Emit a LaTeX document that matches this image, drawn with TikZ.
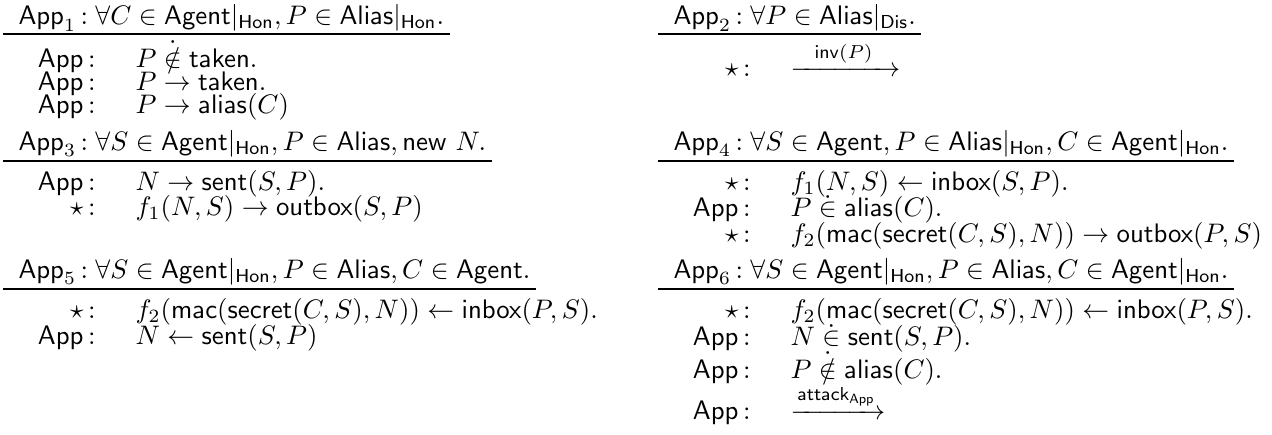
\documentclass[tikz,border=0pt]{standalone}
\usepackage{amsmath,amssymb}
\usetikzlibrary{calc}
\newcommand{\sfx}[1]{\mathsf{#1}}
\newcommand{\Hon}{|_{\sfx{Hon}}}
\newcommand{\rolA}{$\sfx{App}\,{:}$}
\newcommand{\rolS}{$\star\,{:}$}
\newcommand{\dnotin}{\mathrel{\dot{\notin}}}
\newcommand{\din}{\mathrel{\dot{\in}}}
\tikzset{
  ttl/.style={anchor=base west, inner sep=0pt},
  role/.style={anchor=base east, inner sep=0pt},
  body/.style={anchor=base west, inner sep=0pt},
  rl/.style={line width=0.75pt}
}
\begin{document}
\begin{tikzpicture}[x=0.3731pt,y=-0.3731pt]
\useasboundingbox (0,0) rectangle (1272,434);
% ---------- left column ----------
\node[ttl] (t1) at (18,24.5) {$\sfx{App}_1\,{:}\;\forall C\in\sfx{Agent}\Hon, P\in\sfx{Alias}\Hon.$};
\draw[rl] ($(t1.base west)+(-15,9)$) -- ($(t1.base east)+(5,9)$);
\node[role] (a11) at (96,67) {\rolA};
\node[body] (b11) at (135,67) {$P \dnotin \sfx{taken}.$};
\node[role] (a12) at (96,90) {\rolA};
\node[body] (b12) at (135,90) {$P \to \sfx{taken}.$};
\node[role] (a13) at (96,113) {\rolA};
\node[body] (b13) at (135,113) {$P \to \sfx{alias}(C)$};

\node[ttl] (t3) at (18,150) {$\sfx{App}_3\,{:}\;\forall S\in\sfx{Agent}\Hon, P\in\sfx{Alias}, \sfx{new}\ N.$};
\draw[rl] ($(t3.base west)+(-15,11)$) -- ($(t3.base east)+(5,11)$);
\node[role] (a31) at (96,190) {\rolA};
\node[body] (b31) at (135,190) {$N \to \sfx{sent}(S,P).$};
\node[role] (a32) at (96,215) {\rolS};
\node[body] (b32) at (135,215) {$f_1(N,S) \to \sfx{outbox}(S,P)$};

\node[ttl] (t5) at (18,278) {$\sfx{App}_5\,{:}\;\forall S\in\sfx{Agent}\Hon, P\in\sfx{Alias}, C\in\sfx{Agent}.$};
\draw[rl] ($(t5.base west)+(-15,10.5)$) -- ($(t5.base east)+(5,10.5)$);
\node[role] (a51) at (96,318) {\rolS};
\node[body] (b51) at (135,318) {$f_2(\sfx{mac}(\sfx{secret}(C,S),N)) \leftarrow \sfx{inbox}(P,S).$};
\node[role] (a52) at (96,344) {\rolA};
\node[body] (b52) at (135,344) {$N \leftarrow \sfx{sent}(S,P)$};

% ---------- right column ----------
\node[ttl] (t2) at (673,24.5) {$\sfx{App}_2\,{:}\;\forall P\in\sfx{Alias}|_{\sfx{Dis}}.$};
\draw[rl] ($(t2.base west)+(-15,9)$) -- ($(t2.base east)+(5,9)$);
\node[role] (a21) at (751,76) {\rolS};
\node[body] (b21) at (790,76) {$\xrightarrow{\hspace{6.5pt}\sfx{inv}(P)\hspace{6.5pt}}$};

\node[ttl] (t4) at (673,150) {$\sfx{App}_4\,{:}\;\forall S\in\sfx{Agent}, P\in\sfx{Alias}\Hon, C\in\sfx{Agent}\Hon.$};
\draw[rl] ($(t4.base west)+(-15,11)$) -- ($(t4.base east)+(5,11)$);
\node[role] (a41) at (751,190) {\rolS};
\node[body] (b41) at (790,190) {$f_1(N,S) \leftarrow \sfx{inbox}(S,P).$};
\node[role] (a42) at (751,216) {\rolA};
\node[body] (b42) at (790,216) {$P \din \sfx{alias}(C).$};
\node[role] (a43) at (751,242) {\rolS};
\node[body] (b43) at (790,242) {$f_2(\sfx{mac}(\sfx{secret}(C,S),N)) \to \sfx{outbox}(P,S)$};

\node[ttl] (t6) at (673,278) {$\sfx{App}_6\,{:}\;\forall S\in\sfx{Agent}\Hon, P\in\sfx{Alias}, C\in\sfx{Agent}\Hon.$};
\draw[rl] ($(t6.base west)+(-15,10.5)$) -- ($(t6.base east)+(5,10.5)$);
\node[role] (a61) at (751,318) {\rolS};
\node[body] (b61) at (790,318) {$f_2(\sfx{mac}(\sfx{secret}(C,S),N)) \leftarrow \sfx{inbox}(P,S).$};
\node[role] (a62) at (751,345) {\rolA};
\node[body] (b62) at (790,345) {$N \din \sfx{sent}(S,P).$};
\node[role] (a63) at (751,378) {\rolA};
\node[body] (b63) at (790,378) {$P \dnotin \sfx{alias}(C).$};
\node[role] (a64) at (751,419) {\rolA};
\node[body] (b64) at (790,419) {$\xrightarrow{\sfx{attack}_{\sfx{App}}}$};
\end{tikzpicture}
\end{document}
